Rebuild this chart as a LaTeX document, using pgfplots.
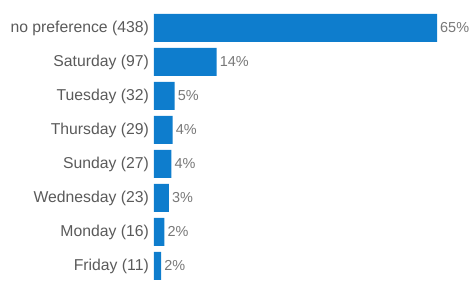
\documentclass[border=0pt]{standalone}
\usepackage{pgfplots}
\pgfplotsset{compat=1.18}
\usepackage{pgfplotstable}
\usepackage{fontspec}
\setmainfont{Liberation Sans}
\definecolor{barblue}{RGB}{14,125,205}
\definecolor{lbl}{RGB}{90,90,90}
\definecolor{pct}{RGB}{120,120,120}
\pgfplotstableread{
idx value pct
0 65.08 65
1 14.41 14
2 4.75 5
3 4.31 4
4 4.01 4
5 3.42 3
6 2.38 2
7 1.63 2
}\datatable
\begin{document}
\begin{tikzpicture}
\begin{axis}[
  scale only axis,
  width=283bp, height=272bp,
  xmin=0, xmax=65.08,
  ymin=-0.5, ymax=7.5,
  y dir=reverse,
  axis line style={draw=none},
  xtick=\empty,
  ytick={0,1,2,3,4,5,6,7},
  yticklabels={no preference (438),Saturday (97),Tuesday (32),Thursday (29),Sunday (27),Wednesday (23),Monday (16),Friday (11)},
  major tick length=0pt,
  yticklabel style={anchor=east, inner sep=0pt, xshift=-5bp, font=\fontsize{15.8}{18}\selectfont, text=lbl},
  xbar, bar width=28bp,
  point meta=explicit,
  nodes near coords={\pgfmathprintnumber[assume math mode=true]{\pgfplotspointmeta}\%},
  nodes near coords style={anchor=west, inner sep=0pt, xshift=3bp, font=\fontsize{14.5}{17}\selectfont, text=pct},
  clip=false,
]
\addplot[fill=barblue, draw=none] table[x=value, y=idx, meta=pct] {\datatable};
\end{axis}
\pgfresetboundingbox
\path[use as bounding box] (current axis.north west) ++(-154bp,11bp) rectangle ++(471bp,-281bp);
\end{tikzpicture}
\end{document}
